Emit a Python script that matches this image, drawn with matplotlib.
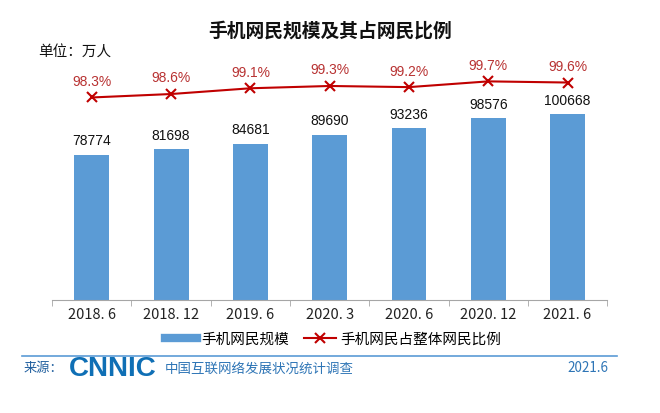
import numpy as np
import matplotlib.pyplot as plt
from matplotlib.lines import Line2D

plt.rcParams['font.family'] = ['Noto Sans CJK SC', 'DejaVu Sans']

periods = ['2018. 6', '2018. 12', '2019. 6', '2020. 3', '2020. 6', '2020. 12', '2021. 6']
users = [78774, 81698, 84681, 89690, 93236, 98576, 100668]
share = [98.3, 98.6, 99.1, 99.3, 99.2, 99.7, 99.6]

bar_color = '#5B9BD5'
line_color = '#C00000'
label_red = '#B83232'

fig = plt.figure(figsize=(6.6, 4.13), dpi=100)

ax = fig.add_axes([0.079, 0.274, 0.841, 0.593])
x = np.arange(len(periods))
ax.bar(x, users, width=0.44, color=bar_color, zorder=2)
ax.set_xlim(-0.5, len(periods) - 0.5)
ax.set_ylim(0, 133000)
for xi, v in zip(x, users):
    ax.text(xi, v + 3500, str(v), ha='center', va='bottom', fontsize=10,
            family='Liberation Sans', color='#111111')

for s in ['top', 'right', 'left']:
    ax.spines[s].set_visible(False)
ax.spines['bottom'].set_color('#a6a6a6')
ax.set_yticks([])
ax.set_xticks(np.arange(-0.5, len(periods)), minor=True)
ax.tick_params(axis='x', which='minor', length=4, color='#a6a6a6')
ax.tick_params(axis='x', which='major', length=0, pad=6)
ax.set_xticks(x)
ax.set_xticklabels(periods, fontsize=10.5, color='#222222')

ax2 = ax.twinx()
ax2.plot(x, share, color=line_color, lw=1.5, marker='x', ms=7, mew=1.5, zorder=3)
ax2.set_ylim(80.7, 102.0)
ax2.axis('off')
for xi, v in zip(x, share):
    ax2.text(xi, v + 0.75, f'{v}%', ha='center', va='bottom', fontsize=10,
             family='Liberation Sans', color=label_red)

fig.text(0.5, 0.926, '手机网民规模及其占网民比例', ha='center', va='center',
         fontsize=13.5, fontweight='bold', color='#111111')
fig.text(0.058, 0.873, '单位：万人', ha='left', va='center', fontsize=10.5, color='#111111')

handles = [Line2D([0], [0], color=bar_color, lw=6),
           Line2D([0], [0], color=line_color, lw=1.5, marker='x', ms=7, mew=1.5)]
fig.legend(handles, ['手机网民规模', '手机网民占整体网民比例'], loc='center',
           bbox_to_anchor=(0.505, 0.178), ncol=2, frameon=False, fontsize=10.5,
           handlelength=2.2, handletextpad=0.3, columnspacing=1.0)

fig.add_artist(Line2D([0.033, 0.935], [0.138, 0.138], color='#5B9BD5', lw=1.2))
fig.text(0.035, 0.108, '来源：', ha='left', va='center', fontsize=9.5, color='#1F5E9E')
fig.text(0.104, 0.106, 'CNNIC', ha='left', va='center', fontsize=20, fontweight='bold',
         color='#0F6FB5', family='Liberation Sans')
fig.text(0.25, 0.108, '中国互联网络发展状况统计调查', ha='left', va='center', fontsize=9.7,
         color='#2E75B6')
fig.text(0.922, 0.108, '2021.6', ha='right', va='center', fontsize=9.7, color='#2E75B6')

fig.savefig('out.png', dpi=100)
